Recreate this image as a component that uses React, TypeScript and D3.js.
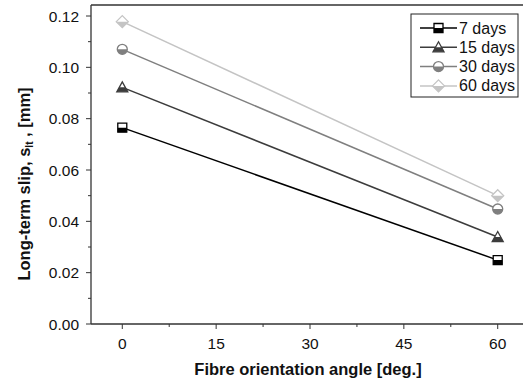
import React from "react";
import * as d3 from "d3";

// Fibre orientation angles (deg.) and long-term slip (mm) per curing age
const angles = [0, 60];
const slip7 = [0.0765, 0.0249];
const slip15 = [0.0922, 0.0339];
const slip30 = [0.1070, 0.0448];
const slip60 = [0.1178, 0.0500];
const seriesNames = ["7 days", "15 days", "30 days", "60 days"];
const xTicks = [0, 15, 30, 45, 60];
const yTicks = [0, 0.02, 0.04, 0.06, 0.08, 0.1, 0.12];

const colors = ["#000000", "#3c3c3c", "#7f7f7f", "#c4c4c4"];
const shapes = ["square", "triangle", "circle", "diamond"];

const W = 523;
const H = 391;
const left = 91;
const right = 529;
const top = 5;
const bottom = 324;

const x = d3.scaleLinear().domain([-5, 65]).range([left, right]);
const y = d3.scaleLinear().domain([0, 0.12]).range([bottom, 16]);

function Marker({ shape, cx, cy, color }: { shape: string; cx: number; cy: number; color: string }) {
  const id = `clip-${shape}-${Math.round(cx)}-${Math.round(cy)}`;
  let path = "";
  if (shape === "square") {
    path = `M${cx - 4.5},${cy - 4.5}h9v9h-9z`;
  } else if (shape === "triangle") {
    path = `M${cx},${cy - 5.5}L${cx + 5.5},${cy + 4.5}L${cx - 5.5},${cy + 4.5}z`;
  } else if (shape === "circle") {
    path = `M${cx - 5},${cy}a5,5 0 1,0 10,0a5,5 0 1,0 -10,0z`;
  } else {
    path = `M${cx},${cy - 6}L${cx + 6},${cy}L${cx},${cy + 6}L${cx - 6},${cy}z`;
  }
  return (
    <g>
      <defs>
        <clipPath id={id}>
          <rect x={cx - 10} y={cy} width={20} height={10} />
        </clipPath>
      </defs>
      <path d={path} fill="#ffffff" stroke={color} strokeWidth={1.3} />
      <path d={path} fill={color} clipPath={`url(#${id})`} />
    </g>
  );
}

export default function App() {
  const data = [slip7, slip15, slip30, slip60];
  const line = d3
    .line<number>()
    .x((_, i) => x(angles[i]))
    .y((v) => y(v));
  const xMinor = d3.range(-7.5, 66, 7.5).filter((v) => x(v) >= left && v % 15 !== 0);
  const yMinor = d3.range(0.01, 0.125, 0.02);
  const font = "'Liberation Sans', Arial, sans-serif";

  return (
    <svg
      width={W}
      height={H}
      style={{ position: "absolute", left: 0, top: 0, background: "#fff" }}
      fontFamily={font}
    >
      {/* series lines */}
      {data.map((s, k) => (
        <path key={`l${k}`} d={line(s) || ""} fill="none" stroke={colors[k]} strokeWidth={1.5} />
      ))}
      {/* markers */}
      {data.map((s, k) =>
        s.map((v, i) => (
          <Marker key={`m${k}-${i}`} shape={shapes[k]} cx={x(angles[i])} cy={y(v)} color={colors[k]} />
        ))
      )}

      {/* frame */}
      <line x1={left} x2={W} y1={top} y2={top} stroke="#333" strokeWidth={1.3} />
      <line x1={left} x2={left} y1={top} y2={bottom} stroke="#333" strokeWidth={1.3} />
      <line x1={left} x2={W} y1={bottom} y2={bottom} stroke="#333" strokeWidth={1.3} />

      {/* x ticks */}
      {xTicks.map((t) => (
        <g key={`xt${t}`}>
          <line x1={x(t)} x2={x(t)} y1={bottom} y2={bottom + 5} stroke="#333" strokeWidth={1} />
          <text x={x(t)} y={bottom + 25} textAnchor="middle" fontSize={15.5} fill="#111">
            {t}
          </text>
        </g>
      ))}
      {xMinor.map((t) => (
        <line key={`xm${t}`} x1={x(t)} x2={x(t)} y1={bottom} y2={bottom + 3} stroke="#333" strokeWidth={1} />
      ))}

      {/* y ticks */}
      {yTicks.map((t) => (
        <g key={`yt${t}`}>
          <line x1={left - 5} x2={left} y1={y(t)} y2={y(t)} stroke="#333" strokeWidth={1} />
          <text x={left - 12} y={y(t) + 5.5} textAnchor="end" fontSize={15.5} fill="#111">
            {t.toFixed(2)}
          </text>
        </g>
      ))}
      {yMinor.map((t) => (
        <line key={`ym${t}`} x1={left - 3} x2={left} y1={y(t)} y2={y(t)} stroke="#333" strokeWidth={1} />
      ))}

      {/* axis titles */}
      <text x={308} y={375} textAnchor="middle" fontSize={16.5} fontWeight="bold" fill="#111">
        Fibre orientation angle [deg.]
      </text>
      <text
        transform={`translate(30,${184}) rotate(-90)`}
        textAnchor="middle"
        fontSize={16.5}
        fontWeight="bold"
        fill="#111"
      >
        Long-term slip, s
        <tspan fontSize={10} dy={3}>lt</tspan>
        <tspan dy={-3}> , [mm]</tspan>
      </text>

      {/* legend */}
      <rect x={411} y={14} width={107} height={83} fill="#fff" stroke="#222" strokeWidth={1} />
      {seriesNames.map((name, k) => {
        const ly = 28 + k * 19.3;
        return (
          <g key={`lg${k}`}>
            <line x1={420} x2={457} y1={ly} y2={ly} stroke={colors[k]} strokeWidth={1.5} />
            <Marker shape={shapes[k]} cx={438.5} cy={ly} color={colors[k]} />
            <text x={459} y={ly + 5.5} fontSize={16} fill="#111">
              {name}
            </text>
          </g>
        );
      })}
    </svg>
  );
}
